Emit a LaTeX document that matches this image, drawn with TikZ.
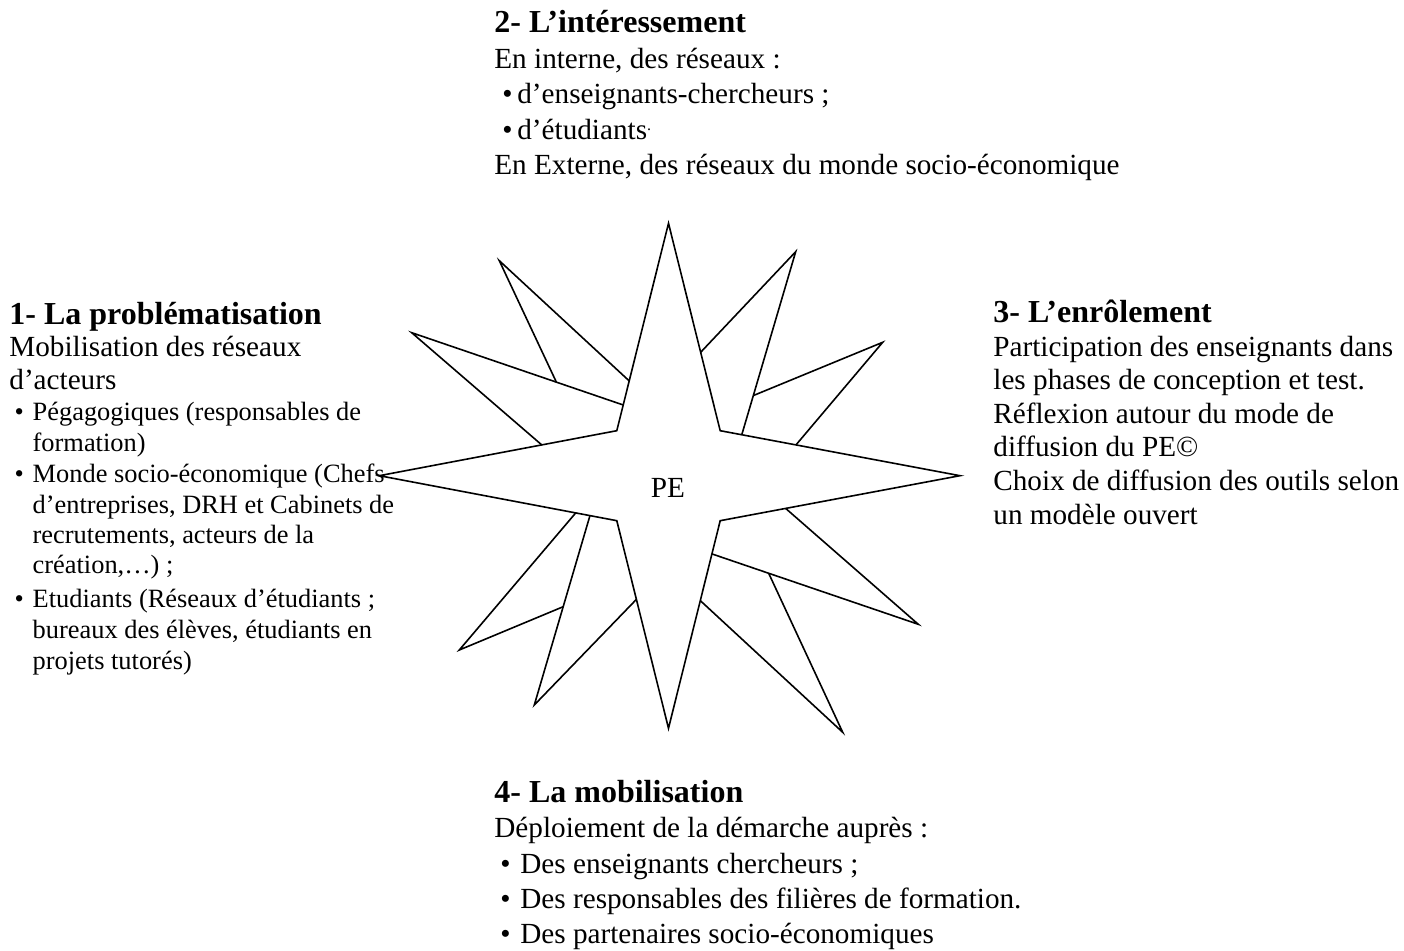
\documentclass[tikz,border=0pt]{standalone}
\usepackage{fontspec}
\setmainfont{Liberation Serif}
\usetikzlibrary{calc}
\newcommand{\bodyfnt}{\fontsize{14.6}{17}\selectfont}
\newcommand{\smfnt}{\fontsize{13.2}{15.5}\selectfont}
\newcommand{\ttlfnt}{\fontsize{16}{19}\selectfont\bfseries}
\newcommand{\bul}[2]{\makebox[#2][l]{\hspace{#1}\textbullet}}
\newcommand{\updot}{\raisebox{4.5pt}{\fontsize{8}{8}\selectfont.}}
\begin{document}
\begin{tikzpicture}[x=0.5pt,y=-0.5pt,
  txt/.style={anchor=base west,inner sep=0pt,font=\bodyfnt},
  smtxt/.style={anchor=base west,inner sep=0pt,font=\smfnt},
  ttl/.style={anchor=base west,inner sep=0pt,font=\ttlfnt},
  starline/.style={line width=0.8pt,line join=miter}]
\useasboundingbox (0,0) rectangle (1404,951);

% ---- main four-point star
\coordinate (N) at (668.5,223.3);
\coordinate (NEi) at (720.2,430.7);
\coordinate (E) at (960,475.7);
\coordinate (SEi) at (720.2,520.7);
\coordinate (S) at (668.5,728.3);
\coordinate (SWi) at (616.8,520.7);
\coordinate (W) at (379.3,475.7);
\coordinate (NWi) at (616.8,430.7);
\draw[starline] (N) -- (NEi) -- (E) -- (SEi) -- (S) -- (SWi) -- (W) -- (NWi) -- cycle;

% ---- north-west points
\coordinate (tNW) at (411.7,332.7);
\coordinate (aNW1) at ($(N)!0.876!(NWi)$);
\coordinate (aNW2) at ($(NWi)!0.316!(W)$);
\draw[starline] (aNW1) -- (tNW) -- (aNW2);
\coordinate (tNNW) at (499.3,260.7);
\coordinate (aNNW1) at ($(N)!0.760!(NWi)$);
\coordinate (aNNW2) at ($(tNW)!0.684!(aNW1)$);
\draw[starline] (aNNW1) -- (tNNW) -- (aNNW2);

% ---- north-east points
\coordinate (tNNE) at (795.7,251.7);
\coordinate (aNNE1) at ($(N)!0.622!(NEi)$);
\coordinate (aNNE2) at ($(NEi)!0.090!(E)$);
\draw[starline] (aNNE1) -- (tNNE) -- (aNNE2);
\coordinate (tENE) at (882.7,342.3);
\coordinate (aENE1) at ($(tNNE)!0.786!(aNNE2)$);
\coordinate (aENE2) at ($(NEi)!0.316!(E)$);
\draw[starline] (aENE1) -- (tENE) -- (aENE2);

% ---- south-west points
\coordinate (tSSW) at (534.3,705);
\coordinate (aSSW1) at ($(W)!0.887!(SWi)$);
\coordinate (aSSW2) at ($(SWi)!0.379!(S)$);
\draw[starline] (aSSW1) -- (tSSW) -- (aSSW2);
\coordinate (tWSW) at (459.3,650);
\coordinate (aWSW1) at ($(W)!0.827!(SWi)$);
\coordinate (aWSW2) at ($(tSSW)!0.519!(aSSW1)$);
\draw[starline] (aWSW1) -- (tWSW) -- (aWSW2);

% ---- south-east points
\coordinate (tESE) at (918.3,624.3);
\coordinate (aESE1) at ($(E)!0.727!(SEi)$);
\coordinate (aESE2) at ($(SEi)!0.160!(S)$);
\draw[starline] (aESE1) -- (tESE) -- (aESE2);
\coordinate (tSSE) at (842.7,732.3);
\coordinate (aSSE1) at ($(tESE)!0.725!(aESE2)$);
\coordinate (aSSE2) at ($(SEi)!0.385!(S)$);
\draw[starline] (aSSE1) -- (tSSE) -- (aSSE2);

\node[anchor=base,inner sep=0pt,font=\bodyfnt] (pe) at (668,498) {PE};

% ---- 2- top block
\node[ttl] (t0) at (494,33) {2- L’intéressement};
\node[txt] (t1) at (494,68.5) {En interne, des réseaux :};
\node[txt] (t2) at (494,104) {\bul{4pt}{11.5pt}d’enseignants-chercheurs ;};
\node[txt] (t3) at (494,139.5) {\bul{4pt}{11.5pt}d’étudiants\updot};
\node[txt] (t4) at (494,175) {En Externe, des réseaux du monde socio-économique};

% ---- 1- left block
\node[ttl] (l0) at (9,325) {1- La problématisation};
\node[txt] (l1) at (9,357) {Mobilisation des réseaux};
\node[txt] (l2) at (9,390) {d’acteurs};
\node[smtxt] (l3) at (9,421) {\bul{2.6pt}{11.65pt}Pégagogiques (responsables de};
\node[smtxt] (l4) at (32.3,452) {formation)};
\node[smtxt] (l5) at (9,483) {\bul{2.6pt}{11.65pt}Monde socio-économique (Chefs};
\node[smtxt] (l6) at (32.3,513.5) {d’entreprises, DRH et Cabinets de};
\node[smtxt] (l7) at (32.3,543.5) {recrutements, acteurs de la};
\node[smtxt] (l8) at (32.3,574) {création,…) ;};
\node[smtxt] (l9) at (9,608) {\bul{2.6pt}{11.65pt}Etudiants (Réseaux d’étudiants ;};
\node[smtxt] (l10) at (32.3,639) {bureaux des élèves, étudiants en};
\node[smtxt] (l11) at (32.3,670) {projets tutorés)};

% ---- 3- right block
\node[ttl] (r0) at (993,323) {3- L’enrôlement};
\node[txt] (r1) at (993,356.5) {Participation des enseignants dans};
\node[txt] (r2) at (993,390) {les phases de conception et test.};
\node[txt] (r3) at (993,423.5) {Réflexion autour du mode de};
\node[txt] (r4) at (993,457) {diffusion du PE©};
\node[txt] (r5) at (993,491) {Choix de diffusion des outils selon};
\node[txt] (r6) at (993,525) {un modèle ouvert};

% ---- 4- bottom block
\node[ttl] (b0) at (494,803) {4- La mobilisation};
\node[txt] (b1) at (494,838) {Déploiement de la démarche auprès :};
\node[txt] (b2) at (494,873) {\bul{3pt}{13pt}Des enseignants chercheurs ;};
\node[txt] (b3) at (494,908) {\bul{3pt}{13pt}Des responsables des filières de formation.};
\node[txt] (b4) at (494,943) {\bul{3pt}{13pt}Des partenaires socio-économiques};
\end{tikzpicture}
\end{document}
